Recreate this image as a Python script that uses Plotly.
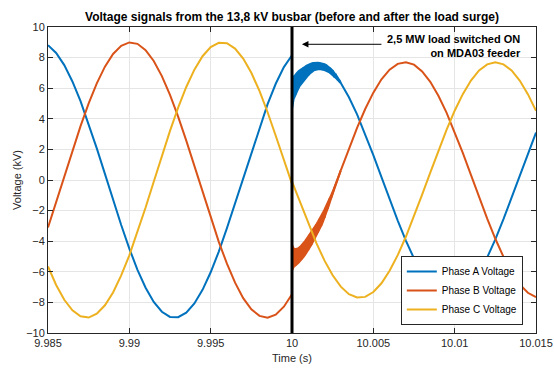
import plotly.graph_objects as go

# ---- data ----
t_pre = [9.9850, 9.9855, 9.9860, 9.9865, 9.9870, 9.9875, 9.9880, 9.9885, 9.9890, 9.9895,
         9.9900, 9.9905, 9.9910, 9.9915, 9.9920, 9.9925, 9.9930, 9.9935, 9.9940, 9.9945,
         9.9950, 9.9955, 9.9960, 9.9965, 9.9970, 9.9975, 9.9980, 9.9985, 9.9990, 9.9995,
         10.0000]
a_pre = [8.81, 8.30, 7.51, 6.44, 5.15, 3.68, 2.07, 0.40, -1.30, -2.94, -4.48, -5.87,
         -7.04, -7.97, -8.61, -8.95, -8.97, -8.67, -8.07, -7.18, -6.03, -4.68, -3.15,
         -1.52, 0.17, 1.85, 3.47, 4.96, 6.29, 7.38, 8.15]
b_pre = [-3.10, -1.46, 0.23, 1.91, 3.52, 5.01, 6.32, 7.41, 8.24, 8.77, 8.99, 8.90,
         8.49, 7.78, 6.79, 5.56, 4.14, 2.57, 0.90, -0.79, -2.46, -4.04, -5.47, -6.71,
         -7.72, -8.45, -8.88, -9.00, -8.80, -8.28, -7.47]
c_pre = [-5.65, -6.86, -7.83, -8.52, -8.91, -8.99, -8.74, -8.19, -7.35, -6.24, -4.92,
         -3.42, -1.80, -0.11, 1.58, 3.21, 4.73, 6.08, 7.21, 8.09, 8.69, 8.97, 8.94,
         8.59, 7.94, 7.01, 5.82, 4.43, 2.89, 1.24, -0.25]

t_post = [10.0000, 10.0005, 10.0010, 10.0015, 10.0020, 10.0025, 10.0030, 10.0035,
          10.0040, 10.0045, 10.0050, 10.0055, 10.0060, 10.0065, 10.0070, 10.0075,
          10.0080, 10.0085, 10.0090, 10.0095, 10.0100, 10.0105, 10.0110, 10.0115,
          10.0120, 10.0125, 10.0130, 10.0135, 10.0140, 10.0145, 10.0150]
a_post = [None, None, None, None, None, None,
          6.34, 5.41, 4.29, 3.01, 1.63, 0.19, -1.25, -2.65, -3.96, -5.13, -6.11,
          -6.88, -7.41, -7.67, -7.66, -7.38, -6.84, -6.06, -5.06, -3.88, -2.56,
          -1.16, 0.29, 1.73, 3.10]
b_post = [None, None, None, None, None, None,
          0.63, 2.06, 3.41, 4.64, 5.71, 6.58, 7.21, 7.59, 7.70, 7.54, 7.10, 6.42,
          5.51, 4.41, 3.15, 1.77, 0.34, -1.11, -2.52, -3.84, -5.02, -6.03, -6.82,
          -7.37, -7.66]
c_post = [-0.10, -1.44, -2.83, -4.13, -5.27, -6.23, -6.97, -7.46, -7.68, -7.64, -7.32,
          -6.75, -5.93, -4.91, -3.71, -2.38, -0.96, 0.48, 1.92, 3.28, 4.53, 5.61,
          6.50, 7.16, 7.56, 7.70, 7.56, 7.16, 6.50, 5.61, 4.53]

# noisy transient just after the switching instant
t_noise = [10.0000, 10.0001, 10.0002, 10.0003, 10.0004, 10.0005, 10.0006, 10.0007,
           10.0008, 10.0009, 10.0010, 10.0011, 10.0012, 10.0013, 10.0014, 10.0015,
           10.0016, 10.0017, 10.0018, 10.0019, 10.0020, 10.0021, 10.0022, 10.0023,
           10.0024, 10.0025, 10.0026, 10.0027, 10.0028, 10.0029, 10.0030]
a_noise = [4.75, 6.69, 5.56, 7.00, 6.01, 7.19, 6.34, 7.35, 6.60, 7.47, 6.85, 7.58,
           7.06, 7.65, 7.19, 7.66, 7.24, 7.65, 7.24, 7.61, 7.19, 7.51, 7.10, 7.35,
           6.95, 7.15, 6.78, 6.87, 6.56, 6.54, 6.34]
a_noise_hi = [6.85, 6.69, 6.86, 7.00, 7.11, 7.19, 7.28, 7.35, 7.40, 7.47, 7.53, 7.58,
              7.62, 7.65, 7.67, 7.66, 7.66, 7.65, 7.64, 7.61, 7.57, 7.51, 7.44, 7.35,
              7.25, 7.15, 7.02, 6.87, 6.72, 6.54, 6.34]
a_noise_lo = [4.65, 5.29, 5.56, 5.80, 6.01, 6.19, 6.34, 6.47, 6.60, 6.73, 6.85, 6.96,
              7.06, 7.13, 7.19, 7.22, 7.24, 7.25, 7.24, 7.21, 7.19, 7.15, 7.10, 7.03,
              6.95, 6.87, 6.78, 6.67, 6.56, 6.44, 6.34]
b_noise = [-5.93, -4.48, -5.62, -4.50, -5.41, -4.37, -5.18, -4.14, -4.90, -3.85,
           -4.58, -3.53, -4.22, -3.22, -3.86, -2.89, -3.43, -2.54, -2.98, -2.14,
           -2.47, -1.72, -1.88, -1.25, -1.21, -0.77, -0.53, -0.24, 0.05, 0.34, 0.63]
b_noise_hi = [-4.23, -4.48, -4.52, -4.50, -4.45, -4.37, -4.26, -4.14, -4.00, -3.85,
              -3.70, -3.53, -3.38, -3.22, -3.06, -2.89, -2.71, -2.54, -2.34, -2.14,
              -1.93, -1.72, -1.48, -1.25, -1.01, -0.77, -0.53, -0.24, 0.05, 0.34, 0.63]
b_noise_lo = [-5.93, -5.68, -5.62, -5.50, -5.41, -5.31, -5.18, -5.04, -4.90, -4.75,
              -4.58, -4.39, -4.22, -4.04, -3.86, -3.65, -3.43, -3.20, -2.98, -2.74,
              -2.47, -2.20, -1.88, -1.55, -1.21, -0.87, -0.53, -0.24, 0.05, 0.34, 0.63]

names = ["Phase A Voltage", "Phase B Voltage", "Phase C Voltage"]
colors = ["#0072BD", "#D95319", "#EDB120"]

x_ticks = [9.985, 9.99, 9.995, 10.0, 10.005, 10.01, 10.015]
x_ticktext = ["9.985", "9.99", "9.995", "10", "10.005", "10.01", "10.015"]
y_ticks = [-10, -8, -6, -4, -2, 0, 2, 4, 6, 8, 10]

switch_time = 10.0
arrow_head = (10.00061, 8.87)
arrow_tail = (10.00559, 8.87)
note_pos = (10.0142, 8.78)
note_text = "2,5 MW load switched ON<br>on MDA03 feeder"
title_text = "Voltage signals from the 13,8 kV busbar (before and after the load surge)"

FONT = "Liberation Sans, Arial, Helvetica, sans-serif"
LW = 2

fig = go.Figure()
series = [
    (a_pre, a_post, a_noise, a_noise_hi, a_noise_lo),
    (b_pre, b_post, b_noise, b_noise_hi, b_noise_lo),
    (c_pre, c_post, None, None, None),
]
for i, (pre, post, noise, hi, lo) in enumerate(series):
    fig.add_trace(go.Scatter(x=t_pre, y=pre, mode="lines", name=names[i],
                             legendgroup=names[i], showlegend=True,
                             line=dict(color=colors[i], width=LW)))
    fig.add_trace(go.Scatter(x=t_post, y=post, mode="lines", name=names[i],
                             legendgroup=names[i], showlegend=False,
                             line=dict(color=colors[i], width=LW)))
    if noise is not None:
        fig.add_trace(go.Scatter(x=t_noise + t_noise[::-1], y=hi + lo[::-1],
                                 mode="lines", fill="toself", fillcolor=colors[i],
                                 name=names[i], legendgroup=names[i], showlegend=False,
                                 line=dict(color=colors[i], width=LW)))
        fig.add_trace(go.Scatter(x=t_noise, y=noise, mode="lines", name=names[i],
                                 legendgroup=names[i], showlegend=False,
                                 line=dict(color=colors[i], width=LW)))

fig.add_shape(type="line", x0=switch_time, x1=switch_time, y0=0, y1=1,
              xref="x", yref="y domain", line=dict(color="black", width=3),
              layer="above")

fig.add_annotation(x=arrow_head[0], y=arrow_head[1], ax=arrow_tail[0], ay=arrow_tail[1],
                   xref="x", yref="y", axref="x", ayref="y", text="",
                   showarrow=True, arrowhead=2, arrowsize=1.3, arrowwidth=1,
                   arrowcolor="#000000", standoff=0, startstandoff=0)
fig.add_annotation(x=note_pos[0], y=note_pos[1], xref="x", yref="y", text=note_text,
                   showarrow=False, xanchor="right", yanchor="middle", align="right",
                   font=dict(family=FONT, size=11, color="#000000", weight="bold"))

axis_common = dict(showgrid=True, gridcolor="#e5e5e5", gridwidth=1,
                   showline=True, linecolor="#262626", linewidth=1, mirror="ticks",
                   ticks="inside", ticklen=5, tickcolor="#262626", tickwidth=1,
                   zeroline=False, automargin=False,
                   tickfont=dict(family=FONT, size=11, color="#262626"))

fig.update_xaxes(range=[9.985, 10.015], tickvals=x_ticks, ticktext=x_ticktext,
                 title=dict(text="Time (s)", font=dict(family=FONT, size=11, color="#262626"),
                            standoff=6),
                 **axis_common)
fig.update_yaxes(range=[-10, 10], tickvals=y_ticks,
                 title=dict(text="Voltage (kV)", font=dict(family=FONT, size=11, color="#262626"),
                            standoff=2),
                 **axis_common)

fig.update_layout(
    width=554, height=369,
    margin=dict(l=48, r=18, t=27, b=36, autoexpand=False),
    paper_bgcolor="white", plot_bgcolor="white",
    title=dict(text=title_text, x=0.527, xanchor="center", y=1 - 17 / 369,
               yanchor="middle", yref="container", automargin=False,
               font=dict(family=FONT, size=12, color="#000000", weight="bold")),
    legend=dict(x=0.973, y=0.026, xanchor="right", yanchor="bottom",
                bgcolor="white", bordercolor="#262626", borderwidth=1,
                font=dict(family=FONT, size=10, color="#000000"),
                tracegroupgap=0, itemwidth=30),
    showlegend=True,
)

fig.write_html("out.html")
